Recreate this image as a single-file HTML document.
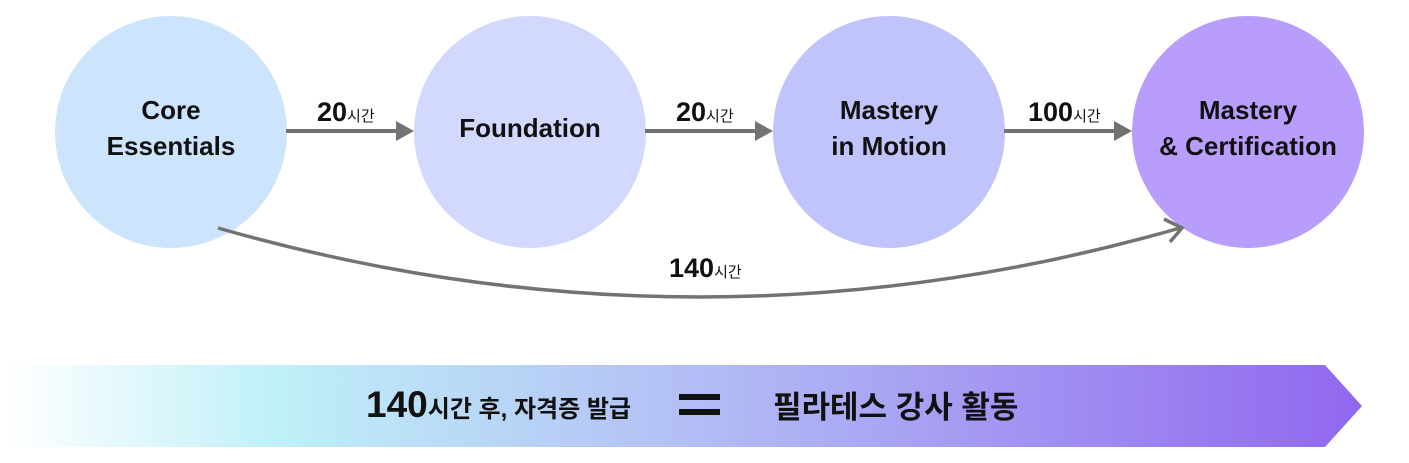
<!DOCTYPE html>
<html><head><meta charset="utf-8"><style>
body{margin:0;background:#fff;width:1409px;height:463px;overflow:hidden;font-family:"Liberation Sans","Noto Sans CJK KR",sans-serif}
</style></head><body>
<svg width="1409" height="463" xmlns="http://www.w3.org/2000/svg" style="position:absolute;left:0;top:0">
<defs>
<linearGradient id="g" x1="0" x2="1" y1="0" y2="0">
<stop offset="0" stop-color="#ffffff"/>
<stop offset="0.2" stop-color="#bff0f8"/>
<stop offset="0.5" stop-color="#b3bff5"/>
<stop offset="1" stop-color="#9167ef"/>
</linearGradient>
</defs>
<circle cx="171" cy="132" r="116" fill="#cce5fc"/>
<circle cx="530" cy="132" r="116" fill="#d3d8fe"/>
<circle cx="889" cy="132" r="116" fill="#c1c3fb"/>
<circle cx="1248" cy="132" r="116" fill="#b99dfc"/>
<g font-family="Liberation Sans, Noto Sans CJK KR, sans-serif" font-weight="bold" font-size="26" fill="#111" text-anchor="middle">
<text x="171" y="119">Core</text><text x="171" y="155">Essentials</text>
<text x="530" y="137">Foundation</text>
<text x="889" y="119">Mastery</text><text x="889" y="155">in Motion</text>
<text x="1248" y="119">Mastery</text><text x="1248" y="155">&amp; Certification</text>
</g>
<g stroke="#737373" stroke-width="4" fill="#737373">
<line x1="286" y1="131" x2="398" y2="131"/><polygon points="396,121 414,131 396,141" stroke="none"/>
<line x1="645" y1="131" x2="757" y2="131"/><polygon points="755,121 773,131 755,141" stroke="none"/>
<line x1="1004" y1="131" x2="1116" y2="131"/><polygon points="1114,121 1132,131 1114,141" stroke="none"/>
<path d="M218,228 Q700,366 1180,228" fill="none" stroke-width="3.5"/>
<polyline points="1164,219 1182,228 1170,242" fill="none" stroke-width="3.5"/>
</g>
<g fill="#111" font-weight="bold" font-family="Liberation Sans, Noto Sans CJK KR, sans-serif">
<text x="317" y="121" font-size="27">20<tspan font-size="15" font-weight="normal">시간</tspan></text>
<text x="676" y="121" font-size="27">20<tspan font-size="15" font-weight="normal">시간</tspan></text>
<text x="1028" y="121" font-size="27">100<tspan font-size="15" font-weight="normal">시간</tspan></text>
<text x="669" y="277" font-size="27">140<tspan font-size="15" font-weight="normal">시간</tspan></text>
</g>
<polygon points="5,365 1325,365 1362,406 1325,447 5,447" fill="url(#g)"/>
<g fill="#111" font-weight="bold" font-family="Liberation Sans, Noto Sans CJK KR, sans-serif">
<text x="366" y="417" font-size="37">140<tspan font-size="24">시간 후, 자격증 발급</tspan></text>
<rect x="679" y="394" width="41" height="6"/><rect x="679" y="409" width="41" height="6"/>
<text x="773" y="418" font-size="31">필라테스 강사 활동</text>
</g>
</svg>
</body></html>
